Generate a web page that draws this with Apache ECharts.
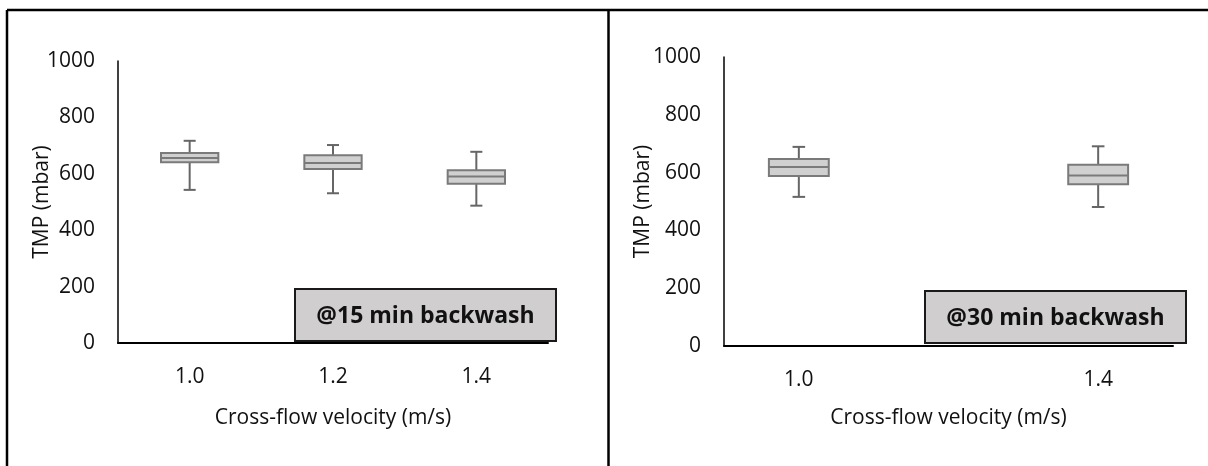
<!DOCTYPE html>
<html>
<head>
<meta charset="utf-8">
<title>TMP vs cross-flow velocity</title>
<script src="https://cdn.jsdelivr.net/npm/echarts@6/dist/echarts.min.js"></script>
<style>
  html, body { margin: 0; padding: 0; background: #fff; }
  #chart { width: 1208px; height: 466px; }
</style>
</head>
<body>
<div id="chart"></div>
<script>
// Cross-flow velocity categories (m/s)
const categories15 = ['1.0', '1.2', '1.4'];
// The 30-min run has no 1.2 m/s test; its slot is kept so spacing stays linear
const categories30 = ['1.0', '', '1.4'];

// Box statistics per category: [min, Q1, median, Q3, max] in mbar
const tmp15 = [
  [543, 641, 656, 674, 717],
  [531, 617, 638, 666, 702],
  [487, 565, 590, 613, 678]
];
const tmp30 = [
  [516, 588, 619, 647, 689],
  null,
  [481, 560, 590, 627, 691]
];

const yTicks = [0, 200, 400, 600, 800, 1000];
const yMin = yTicks[0];
const yMax = yTicks[yTicks.length - 1];
const yStep = yTicks[1] - yTicks[0];

const panelLabels = ['@15 min backwash', '@30 min backwash'];

const FONT = '"Open Sans", "Noto Sans", sans-serif';
const FONT_SIZE = 21;
const BOX_FILL = '#d0d0d0';
const BOX_LINE = '#7a7a7a';
const WHISKER = '#666666';

// Turn a stats table into rows for the custom series: [categoryIndex, min, q1, med, q3, max]
function toRows(stats) {
  const rows = [];
  stats.forEach(function (s, i) {
    if (s) rows.push([i].concat(s));
  });
  return rows;
}

function renderBox(params, api) {
  const idx = api.value(0);
  const x = api.coord([idx, 0])[0];
  const yLo = api.coord([idx, api.value(1)])[1];
  const yQ1 = api.coord([idx, api.value(2)])[1];
  const yMed = api.coord([idx, api.value(3)])[1];
  const yQ3 = api.coord([idx, api.value(4)])[1];
  const yHi = api.coord([idx, api.value(5)])[1];
  const band = api.size([1, 0])[0];
  const half = band * 0.2;
  const cap = band * 0.042;
  const wStyle = { stroke: WHISKER, lineWidth: 2 };
  return {
    type: 'group',
    children: [
      { type: 'line', shape: { x1: x, y1: yHi, x2: x, y2: yQ3 }, style: wStyle },
      { type: 'line', shape: { x1: x, y1: yQ1, x2: x, y2: yLo }, style: wStyle },
      { type: 'line', shape: { x1: x - cap, y1: yHi, x2: x + cap, y2: yHi }, style: wStyle },
      { type: 'line', shape: { x1: x - cap, y1: yLo, x2: x + cap, y2: yLo }, style: wStyle },
      {
        type: 'rect',
        shape: { x: x - half, y: yQ3, width: half * 2, height: yQ1 - yQ3 },
        style: { fill: BOX_FILL, stroke: BOX_LINE, lineWidth: 2 }
      },
      { type: 'line', shape: { x1: x - half, y1: yMed, x2: x + half, y2: yMed }, style: { stroke: BOX_LINE, lineWidth: 2 } }
    ]
  };
}

function xAxis(gridIndex, cats, gap) {
  return {
    type: 'category',
    gridIndex: gridIndex,
    data: cats,
    boundaryGap: true,
    axisLine: { show: true, lineStyle: { color: '#000', width: 2 } },
    axisTick: { show: false },
    axisLabel: { color: '#111', fontFamily: FONT, fontSize: FONT_SIZE, margin: 24 },
    splitLine: { show: false },
    name: 'Cross-flow velocity (m/s)',
    nameLocation: 'middle',
    nameGap: gap,
    nameMoveOverlap: false,
    nameTextStyle: { color: '#111', fontFamily: FONT, fontSize: FONT_SIZE }
  };
}

function yAxis(gridIndex, gap) {
  return {
    type: 'value',
    gridIndex: gridIndex,
    min: yMin,
    max: yMax,
    interval: yStep,
    axisLine: { show: true, lineStyle: { color: '#000', width: 1.5 } },
    axisTick: { show: false },
    splitLine: { show: false },
    axisLabel: {
      color: '#111',
      fontFamily: FONT,
      fontSize: FONT_SIZE,
      margin: 23,
      formatter: function (v) { return String(v); }
    },
    name: 'TMP (mbar)',
    nameLocation: 'middle',
    nameGap: gap,
    nameRotate: 90,
    nameMoveOverlap: false,
    nameTextStyle: { color: '#111', fontFamily: FONT, fontSize: FONT_SIZE }
  };
}

function panelLabel(x, y, text) {
  return {
    type: 'group',
    left: x,
    top: y,
    z: 10,
    children: [
      {
        type: 'rect',
        shape: { x: 0, y: 0, width: 261, height: 52 },
        style: { fill: '#d0cece', stroke: '#1a1a1a', lineWidth: 2 }
      },
      {
        type: 'text',
        x: 130.5,
        y: 27,
        style: {
          text: text,
          fill: '#111',
          font: 'bold 23px ' + FONT,
          align: 'center',
          verticalAlign: 'middle'
        }
      }
    ]
  };
}

const frame = { stroke: '#000', lineWidth: 2.5 };

const chart = echarts.init(document.getElementById('chart'), null, { renderer: 'canvas' });
chart.setOption({
  backgroundColor: '#fff',
  animation: false,
  grid: [
    { left: 118, top: 61, width: 430, height: 282 },
    { left: 724, top: 57, width: 449, height: 289 }
  ],
  xAxis: [xAxis(0, categories15, 65), xAxis(1, categories30, 62)],
  yAxis: [yAxis(0, 65), yAxis(1, 70)],
  series: [
    {
      type: 'custom',
      xAxisIndex: 0,
      yAxisIndex: 0,
      renderItem: renderBox,
      encode: { x: 0, y: [1, 2, 3, 4, 5] },
      data: toRows(tmp15)
    },
    {
      type: 'custom',
      xAxisIndex: 1,
      yAxisIndex: 1,
      renderItem: renderBox,
      encode: { x: 0, y: [1, 2, 3, 4, 5] },
      data: toRows(tmp30)
    }
  ],
  graphic: [
    { type: 'line', shape: { x1: 7, y1: 10, x2: 1208, y2: 10 }, style: frame },
    { type: 'line', shape: { x1: 7, y1: 10, x2: 7, y2: 466 }, style: frame },
    { type: 'line', shape: { x1: 608.5, y1: 10, x2: 608.5, y2: 466 }, style: frame },
    panelLabel(294, 288, panelLabels[0]),
    panelLabel(924, 290, panelLabels[1])
  ]
});
</script>
</body>
</html>
